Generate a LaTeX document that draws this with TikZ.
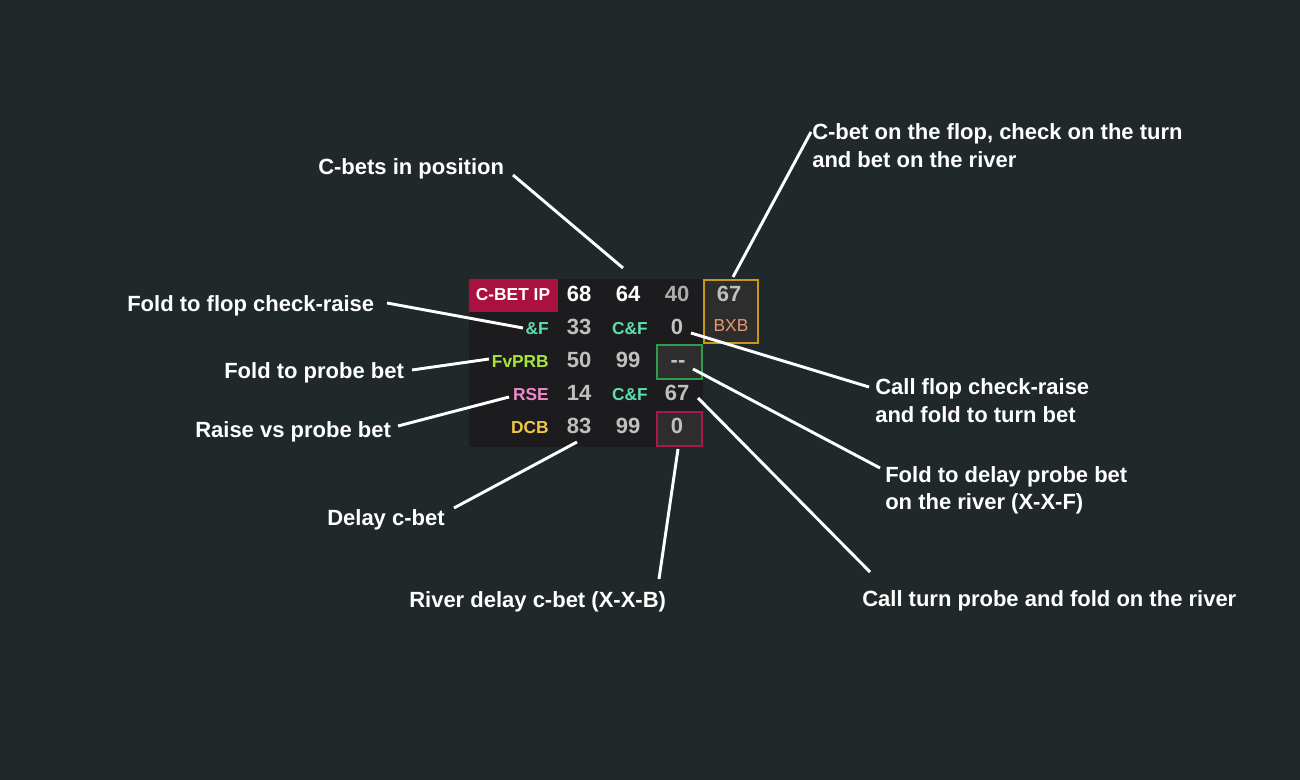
\documentclass[tikz,border=0pt]{standalone}
\usepackage{fontspec}
\setmainfont{Liberation Sans}
\definecolor{bgc}{RGB}{33,40,41}
\definecolor{tblc}{RGB}{28,27,30}
\definecolor{cellc}{RGB}{45,45,46}
\definecolor{redc}{RGB}{170,16,64}
\definecolor{goldb}{RGB}{201,152,26}
\definecolor{greenb}{RGB}{46,158,78}
\definecolor{redb}{RGB}{168,23,78}
\definecolor{bxbc}{RGB}{232,154,110}
\definecolor{tealc}{RGB}{94,221,176}
\definecolor{limec}{RGB}{166,230,60}
\definecolor{pinkc}{RGB}{240,138,200}
\definecolor{yelc}{RGB}{242,199,68}
\definecolor{grayc}{RGB}{192,192,192}
\definecolor{gray40}{RGB}{172,172,172}
\newcommand\annfont{\fontsize{16.5}{21}\selectfont\bfseries}
\newcommand\numfont{\fontsize{16.5}{20}\selectfont\bfseries}
\newcommand\labfont{\fontsize{13}{16}\selectfont\bfseries}
\begin{document}
\begin{tikzpicture}[x=0.75pt,y=-0.75pt,
  ann/.style={anchor=base west,inner sep=0pt,text=white,font=\annfont},
  num/.style={anchor=base,inner sep=0pt,text=grayc,font=\numfont},
  lab/.style={anchor=base east,inner sep=0pt,font=\labfont},
  conn/.style={draw=white,line width=2.2pt},
  cellbox/.style={line width=1.5pt,fill=cellc}]
\useasboundingbox[fill=bgc] (0,0) rectangle (1300,780);
% table
\fill[tblc] (469,279) rectangle (703,447);
\fill[redc] (469,279) rectangle (558,312);
\draw[cellbox,draw=goldb] (704,280) rectangle (758,343);
\draw[cellbox,draw=greenb] (657,345) rectangle (702,379);
\draw[cellbox,draw=redb] (657,412) rectangle (702,446);
\node[anchor=base,inner sep=0pt,text=white,font=\labfont] (cbip) at (513,301) {C-BET IP};
% row 1
\node[num,text=white] (r1a) at (579,302) {68};
\node[num,text=white] (r1b) at (628,302) {64};
\node[num,text=gray40] (r1c) at (677,302) {40};
\node[num] (bx67) at (729,302) {67};
\node[anchor=base,inner sep=0pt,text=bxbc,font=\fontsize{13}{16}\selectfont] (bxb) at (731,332) {BXB};
% row 2
\node[lab,text=tealc] (lf) at (549,334.5) {\&F};
\node[num] (r2a) at (579,334.5) {33};
\node[anchor=base,inner sep=0pt,text=tealc,font=\labfont] (r2b) at (630,334.5) {C\&F};
\node[num] (r2c) at (677,334.5) {0};
% row 3
\node[lab,text=limec] (lfv) at (549,367.5) {FvPRB};
\node[num] (r3a) at (579,367.5) {50};
\node[num] (r3b) at (628,367.5) {99};
\node[num] (r3c) at (678,367.5) {-{}-};
% row 4
\node[lab,text=pinkc] (lrse) at (549,400.5) {RSE};
\node[num] (r4a) at (579,400.5) {14};
\node[anchor=base,inner sep=0pt,text=tealc,font=\labfont] (r4b) at (630,400.5) {C\&F};
\node[num] (r4c) at (677,400.5) {67};
% row 5
\node[lab,text=yelc] (ldcb) at (549,434) {DCB};
\node[num] (r5a) at (579,434) {83};
\node[num] (r5b) at (628,434) {99};
\node[num] (r5c) at (677,434) {0};
% annotations
\node[ann] (t1) at (318,175) {C-bets in position};
\node[ann] (t2) at (127,312) {Fold to flop check-raise};
\node[ann] (t3) at (224,379) {Fold to probe bet};
\node[ann] (t4) at (195,438) {Raise vs probe bet};
\node[ann] (t5) at (327,526) {Delay c-bet};
\node[ann] (t6) at (409,607) {River delay c-bet (X-X-B)};
\node[ann] (t7) at (862,606) {Call turn probe and fold on the river};
\node[ann] (t8a) at (885,483) {Fold to delay probe bet};
\node[ann] (t8b) at (885,510) {on the river (X-X-F)};
\node[ann] (t9a) at (875,395) {Call flop check-raise};
\node[ann] (t9b) at (875,423) {and fold to turn bet};
\node[ann] (t10a) at (812,140) {C-bet on the flop, check on the turn};
\node[ann] (t10b) at (812,168) {and bet on the river};
% connector end points
\coordinate (a1) at (513,175); \coordinate (b1) at (623,268);
\coordinate (a2) at (387,303); \coordinate (b2) at (523,328);
\coordinate (a3) at (412,370); \coordinate (b3) at (489,359);
\coordinate (a4) at (398,426); \coordinate (b4) at (509,397);
\coordinate (a5) at (454,508); \coordinate (b5) at (577,442);
\coordinate (a6) at (659,579); \coordinate (b6) at (678,449);
\coordinate (a7) at (870,572); \coordinate (b7) at (698,398);
\coordinate (a8) at (880,468); \coordinate (b8) at (693,369);
\coordinate (a9) at (869,387); \coordinate (b9) at (691,333);
\coordinate (a10) at (811,132); \coordinate (b10) at (733,277);
\foreach \i in {1,...,10} {\draw[conn] (a\i) -- (b\i);}
\end{tikzpicture}
\end{document}
